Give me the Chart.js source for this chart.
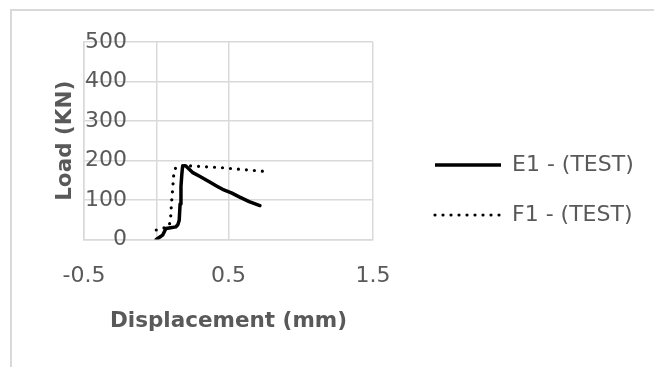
<!DOCTYPE html>
<html>
<head>
<meta charset="utf-8">
<script src="https://cdn.jsdelivr.net/npm/chart.js@4/dist/chart.umd.min.js"></script>
<style>
    html, body { margin: 0; padding: 0; background: #fff; }
    canvas { display: block; }
</style>
</head>
<body>
<canvas id="chart" width="654" height="367"></canvas>
<script>
// series names
const seriesNames = ['E1 - (TEST)', 'F1 - (TEST)'];

// E1 - displacement (mm) / load (KN)
const e1X = [0, 0.02, 0.044, 0.067, 0.1, 0.136, 0.15, 0.159, 0.165, 0.171, 0.177, 0.182, 0.194, 0.205, 0.25, 0.3, 0.367, 0.42, 0.459, 0.52, 0.574, 0.643, 0.717];
const e1Y = [0, 5, 11, 28, 30, 32, 38, 49, 90, 134, 165, 184, 187, 186, 170, 160, 146, 135, 127, 118, 108, 96, 86];

// F1 - displacement (mm) / load (KN)
const f1X = [0, 0.03, 0.06, 0.09, 0.1, 0.105, 0.113, 0.12, 0.125, 0.136, 0.159, 0.2, 0.25, 0.35, 0.45, 0.505, 0.6, 0.7, 0.76];
const f1Y = [24, 27, 30, 34, 58, 90, 125, 160, 176, 182, 187, 187, 186, 184, 182, 180, 177, 174, 172];

// axis ticks
const xTickValues = [-0.5, 0, 0.5, 1.5];
const xTickLabels = ['-0.5', '', '0.5', '1.5'];
const yTickValues = [0, 100, 200, 300, 400, 500];

const textColor = '#595959';
const gridColor = '#d9d9d9';
const legendWidth = 281;
const legendGap = 34;

const toPoints = (xs, ys) => xs.map((x, i) => ({ x: x, y: ys[i] }));

// light frame round the chart (top and left edges only are in view)
const frame = {
    id: 'frame',
    beforeDraw(chart) {
        const ctx = chart.ctx;
        ctx.save();
        ctx.strokeStyle = gridColor;
        ctx.lineWidth = 2;
        ctx.beginPath();
        ctx.moveTo(11, chart.height);
        ctx.lineTo(11, 10);
        ctx.lineTo(chart.width, 10);
        ctx.stroke();
        ctx.restore();
    }
};

// give the legend a fixed width and keep a gap between plot and legend
const legendBox = {
    id: 'legendBox',
    beforeLayout(chart) {
        const legend = chart.legend;
        if (legend && !legend._fixedWidth) {
            const fit = legend.fit;
            legend.fit = function () {
                this.maxWidth = legendWidth;
                fit.call(this);
                this.width = legendWidth;
            };
            legend._fixedWidth = true;
        }
    },
    afterLayout(chart) {
        chart.legend.left += legendGap;
    }
};

Chart.defaults.font.family = 'DejaVu Sans';
Chart.defaults.color = textColor;

const ctx = document.getElementById('chart').getContext('2d');

const chart = new Chart(ctx, {
    type: 'scatter',
    data: {
        datasets: [{
            label: seriesNames[0],
            data: toPoints(e1X, e1Y),
            showLine: true,
            borderColor: '#000',
            backgroundColor: '#000',
            borderWidth: 3.5,
            borderCapStyle: 'round',
            borderJoinStyle: 'round',
            pointRadius: 0,
            tension: 0,
        }, {
            label: seriesNames[1],
            data: toPoints(f1X, f1Y),
            showLine: true,
            borderColor: '#000',
            backgroundColor: '#000',
            borderWidth: 3.2,
            borderDash: [0, 8],
            borderCapStyle: 'round',
            pointRadius: 0,
            tension: 0,
        }],
    },
    options: {
        responsive: false,
        animation: false,
        layout: {
            padding: { left: 40, top: 42, right: 0, bottom: 29 }
        },
        plugins: {
            legend: {
                position: 'right',
                align: 'center',
                labels: {
                    usePointStyle: true,
                    pointStyle: 'line',
                    pointStyleWidth: 66,
                    padding: 28,
                    color: textColor,
                    font: { size: 22 },
                    generateLabels: (chart) => chart.data.datasets.map((ds, i) => ({
                        text: ds.label,
                        datasetIndex: i,
                        fontColor: textColor,
                        strokeStyle: ds.borderColor,
                        fillStyle: ds.borderColor,
                        lineWidth: ds.borderWidth,
                        lineDash: ds.borderDash || [],
                        lineCap: ds.borderDash ? 'round' : 'butt',
                        pointStyle: 'line',
                        hidden: false,
                    }))
                }
            },
            tooltip: { enabled: false },
        },
        scales: {
            x: {
                type: 'linear',
                min: -0.5,
                max: 1.5,
                afterBuildTicks: (scale) => {
                    scale.ticks = xTickValues.map(v => ({ value: v }));
                },
                afterFit: (scale) => {
                    scale.height = 98.5;
                },
                ticks: {
                    callback: (value, index) => xTickLabels[index],
                    autoSkip: false,
                    maxRotation: 0,
                    padding: 24,
                    color: textColor,
                    font: { size: 22 }
                },
                grid: { color: gridColor, lineWidth: 1.5, drawTicks: false },
                border: { color: gridColor, width: 1.5 },
                title: {
                    display: true,
                    text: 'Displacement (mm)',
                    color: textColor,
                    font: { size: 21.5, weight: 'bold' },
                    padding: { top: 0, bottom: 3.4 }
                }
            },
            y: {
                min: 0,
                max: 500,
                afterBuildTicks: (scale) => {
                    scale.ticks = yTickValues.map(v => ({ value: v }));
                },
                afterFit: (scale) => {
                    scale.width = 44;
                },
                ticks: {
                    mirror: true,
                    crossAlign: 'far',
                    padding: 1,
                    color: textColor,
                    font: { size: 22 }
                },
                grid: { color: gridColor, lineWidth: 1.5, drawTicks: false },
                border: { color: gridColor, width: 1.5 },
                title: {
                    display: true,
                    text: 'Load (KN)',
                    color: textColor,
                    font: { size: 21.5, weight: 'bold' },
                    padding: { top: 13, bottom: 0 }
                }
            }
        }
    },
    plugins: [frame, legendBox]
});
</script>
</body>
</html>
